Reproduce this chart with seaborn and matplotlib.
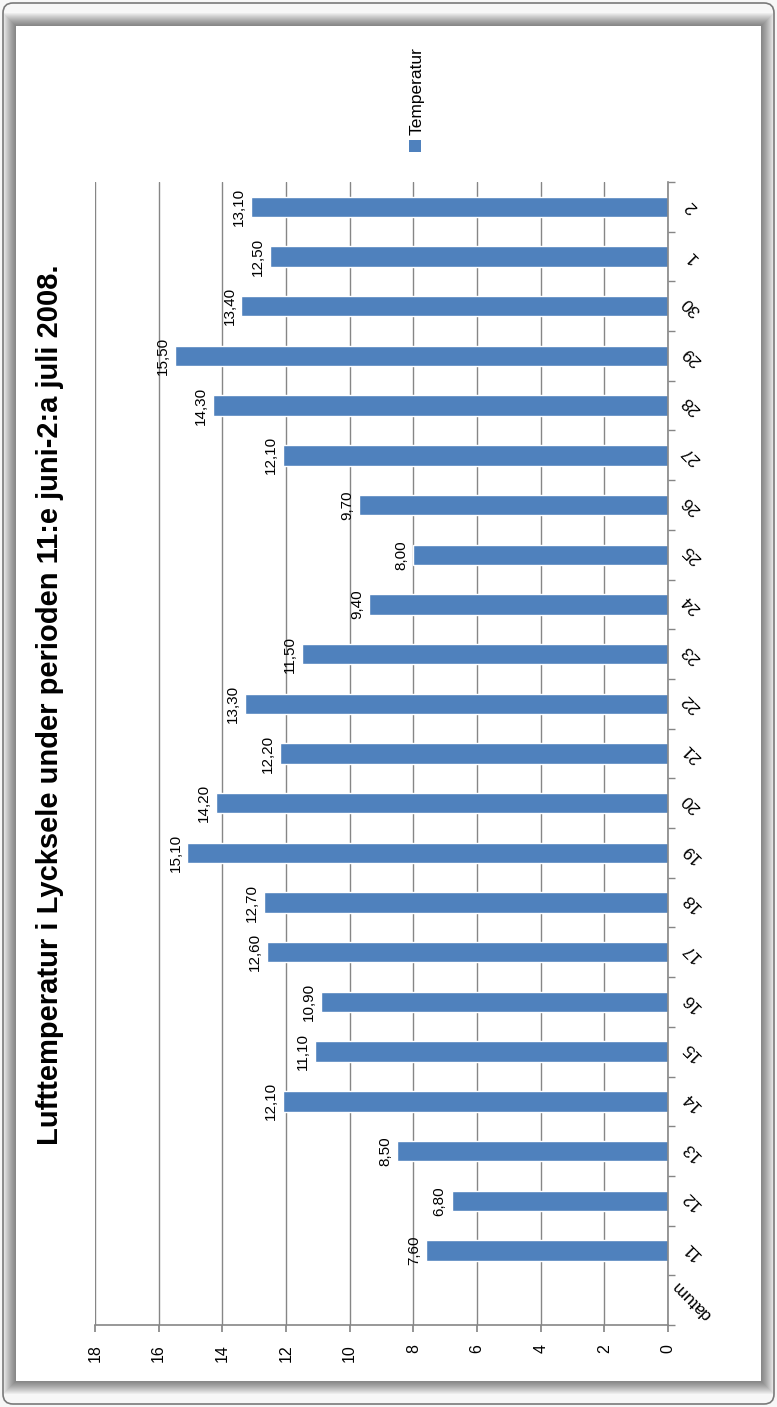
import numpy as np
import pandas as pd
import matplotlib
matplotlib.use("Agg")
import matplotlib.pyplot as plt
from matplotlib.patches import Rectangle, FancyBboxPatch
import seaborn as sns

# data (Lycksele, 11 June - 2 July 2008)
dagar = ["11", "12", "13", "14", "15", "16", "17", "18", "19", "20", "21",
         "22", "23", "24", "25", "26", "27", "28", "29", "30", "1", "2"]
temperatur = [7.6, 6.8, 8.5, 12.1, 11.1, 10.9, 12.6, 12.7, 15.1, 14.2, 12.2,
              13.3, 11.5, 9.4, 8.0, 9.7, 12.1, 14.3, 15.5, 13.4, 12.5, 13.1]
kategorier = ["datum"] + dagar          # excel kept the header as an empty category
xticks = list(range(0, 19, 2))
titel = "Lufttemperatur i Lycksele under perioden 11:e juni-2:a juli 2008."
serie = "Temperatur"

W, H = 777, 1407
BAR = "#4F81BD"
GRID = "#868686"

sns.set_theme(style="white")
plt.rcParams['font.family'] = ['Liberation Sans', 'DejaVu Sans']
plt.rcParams['text.color'] = 'black'

fig = plt.figure(figsize=(W / 100, H / 100), dpi=100)

# --- frame with drop shadow around the white panel ---
px0, px1, py0, py1 = 16, 760, 26, 1380
yy, xx = np.mgrid[0:H, 0:W]
dx = np.maximum(np.maximum(px0 - xx, xx - px1), 0)
dy = np.maximum(np.maximum(py0 - yy, yy - py1), 0)
d = np.maximum(dx, dy)
shade = np.where(d == 0, 1.0, np.clip(0.52 + 0.45 * (d / 14.0) ** 1.3, 0, 0.97))
img = np.dstack([shade] * 3)
bg = fig.add_axes([0, 0, 1, 1], zorder=-5)
bg.imshow(img, extent=[0, W, H, 0], aspect="auto", interpolation="bilinear")
bg.add_patch(FancyBboxPatch((3, 3), W - 6, H - 6, boxstyle="round,pad=0,rounding_size=10",
                            facecolor="none", edgecolor="#7a7a7a", linewidth=1.2))
bg.set_xlim(0, W)
bg.set_ylim(H, 0)
bg.axis("off")

# --- main chart (original excel chart turned 90 degrees) ---
left, right, top, bottom = 95, 668, 182, 1325
ax = fig.add_axes([left / W, 1 - bottom / H, (right - left) / W, (bottom - top) / H])
ax.set_facecolor("none")

df = pd.DataFrame({"datum": dagar, "temp": temperatur})
sns.barplot(data=df, x="temp", y="datum", order=kategorier[::-1], orient="h",
            color=BAR, saturation=1, width=0.41, ax=ax)

ax.set_xlim(18, 0)
ax.set_ylim(len(kategorier) - 0.5, -0.5)

# value labels just beyond the bar end (x axis is inverted, so to the left)
for b in ax.containers[0]:
    v = b.get_width()
    ax.annotate(f"{v:.2f}".replace(".", ","), xy=(v, b.get_y() + b.get_height() / 2),
                xytext=(-3.5, 0), textcoords="offset points", rotation=90,
                ha="right", va="center", fontsize=11, color="black")

ax.set_xticks(xticks)
ax.set_xticklabels([str(t) for t in xticks], rotation=90, fontsize=11.5)
ax.grid(axis="x", color=GRID, linewidth=1)
ax.grid(axis="y", visible=False)
ax.set_axisbelow(True)
ax.set_xlabel("")
ax.set_ylabel("")

ax.yaxis.tick_right()
ax.set_yticks(range(len(kategorier)))
ax.set_yticklabels(kategorier[::-1], rotation=135, ha="center", va="center",
                   rotation_mode="anchor", fontsize=12.5)
ax.set_yticks(np.arange(-0.5, len(kategorier), 1), minor=True)
ax.tick_params(axis="y", which="major", length=0, pad=17, right=True, left=False,
               labelcolor="black")
ax.tick_params(axis="y", which="minor", length=5, color=GRID, right=True, left=False)
ax.tick_params(axis="x", which="major", length=5, color=GRID, pad=9, bottom=True,
               labelcolor="black")

for s in ["left", "top"]:
    ax.spines[s].set_visible(False)
for s in ["right", "bottom"]:
    ax.spines[s].set_color(GRID)
    ax.spines[s].set_linewidth(1.2)

# title and legend, both turned with the chart
fig.text(50 / W, 1 - 705 / H, titel, rotation=90, ha="center", va="center",
         fontsize=21, fontweight="bold")
bg.add_patch(Rectangle((409, 140), 12, 12, facecolor=BAR, edgecolor="none"))
fig.text(417 / W, 1 - 135 / H, serie, rotation=90, ha="center", va="bottom", fontsize=12.5)

fig.savefig("out.png", dpi=100)
